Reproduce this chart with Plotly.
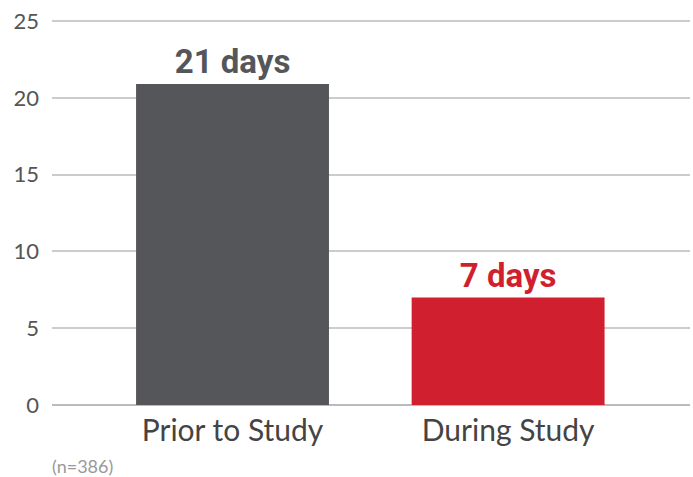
import plotly.graph_objects as go

categories = ["Prior to Study", "During Study"]
values = [20.9, 7.0]
labels = ["21 days", "7 days"]
colors = ["#55565A", "#D01F2E"]
y_ticks = [0, 5, 10, 15, 20, 25]

fig = go.Figure()
fig.add_trace(go.Bar(
    x=categories, y=values, width=0.7,
    marker=dict(color=colors, line=dict(width=0)),
    text=labels, textposition="outside", cliponaxis=False,
    textfont=dict(family="Roboto", size=33, color=colors, weight="bold"),
))
fig.update_layout(
    width=693, height=477,
    margin=dict(l=52, r=3, t=20, b=72),
    plot_bgcolor="white", paper_bgcolor="white",
    showlegend=False,
    xaxis=dict(range=[-0.655, 1.66], showgrid=False, showline=False,
               tickfont=dict(family="Lato", size=30, color="#444444"),
               ticks="", ticklen=0, ticklabelstandoff=5),
    yaxis=dict(range=[0, 25.07], tickvals=y_ticks, showgrid=True,
               gridcolor="#CCCCCC", gridwidth=1.5, zeroline=True,
               zerolinecolor="#BBBBBB", zerolinewidth=1.5,
               tickfont=dict(family="Lato", size=22, color="#555555"),
               ticks="", ticklabelstandoff=12),
    annotations=[dict(text="(n=386)", xref="paper", yref="paper",
                      x=-0.003, y=-0.125, xanchor="left", yanchor="top",
                      showarrow=False,
                      font=dict(family="Lato", size=18, color="#999999"))],
)
fig.write_html("out.html")
